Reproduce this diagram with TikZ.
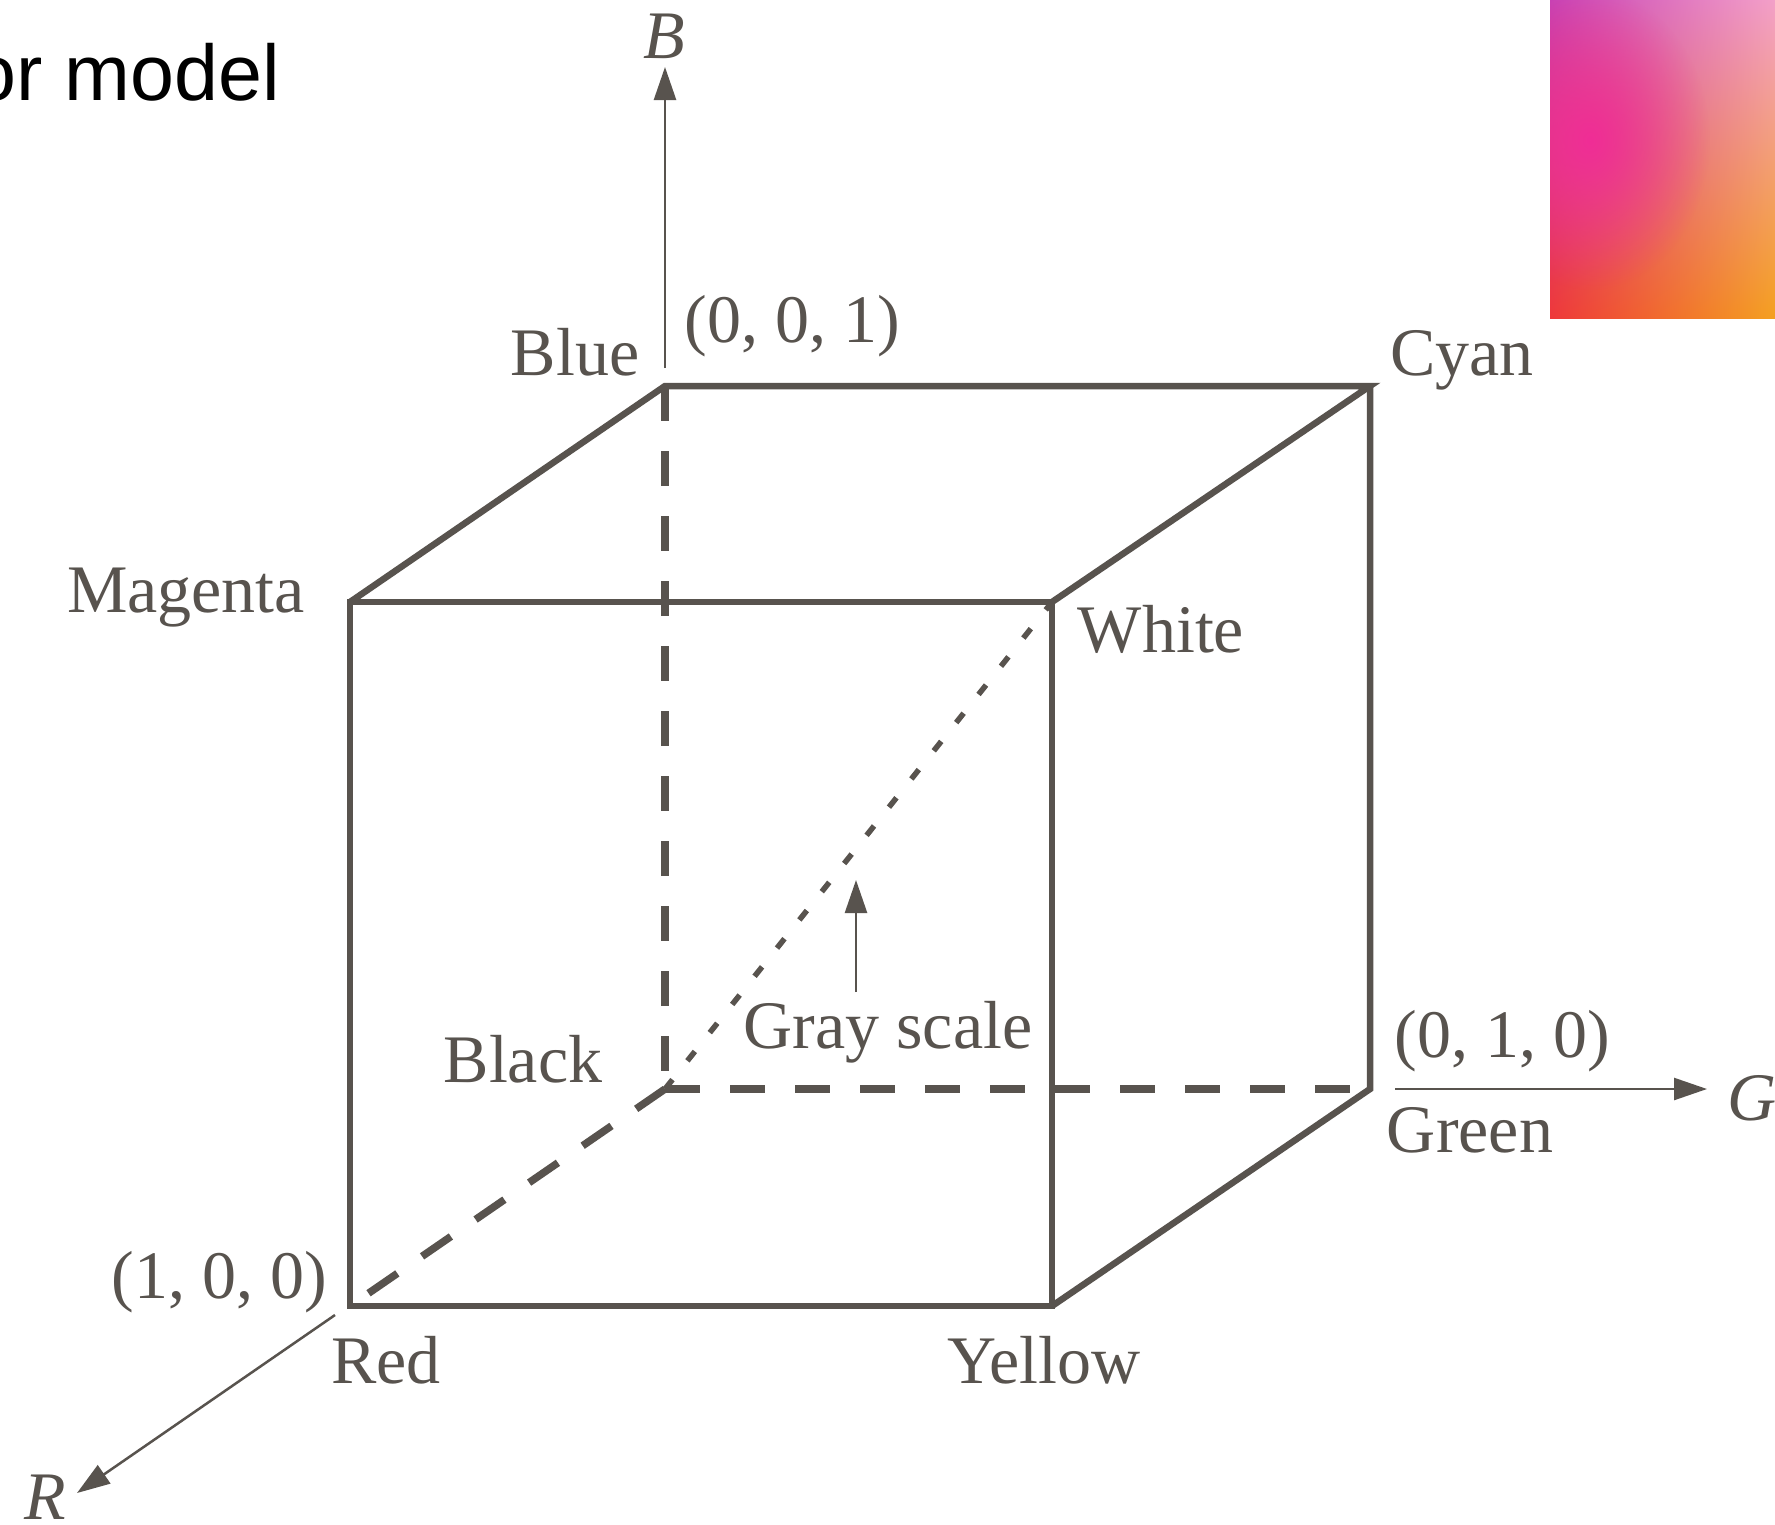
\documentclass[tikz,border=0pt]{standalone}
\usepackage{fontspec}
\setmainfont{Liberation Serif}
\newfontfamily\arialfont{Liberation Sans}
\usetikzlibrary{arrows.meta,fadings,shadings}
\tikzfading[name=myfadeout, inner color=transparent!0, outer color=transparent!100]
\definecolor{ink}{RGB}{88,83,78}
\definecolor{gUL}{RGB}{200,66,180}
\definecolor{gUR}{RGB}{243,160,200}
\definecolor{gLL}{RGB}{238,56,58}
\definecolor{gLR}{RGB}{244,160,32}
\definecolor{hotpink}{RGB}{240,45,150}
\begin{document}
\begin{tikzpicture}[x=1pt,y=-1pt,
  lbl/.style={text=ink, font=\fontsize{68}{80}\selectfont, inner sep=0pt, anchor=base},
  ilbl/.style={lbl, font=\fontsize{68}{80}\selectfont\itshape},
  edge/.style={draw=ink, line width=6.5pt},
  hidden/.style={draw=ink, line width=7.5pt, dash pattern=on 35pt off 30pt},
  grayline/.style={draw=ink, line width=5.5pt, dash pattern=on 12pt off 24pt},
  axis/.style={draw=ink, line width=2.5pt, -{Triangle[length=33pt,width=22pt]}}]
\useasboundingbox (0,0) rectangle (1775,1524);
\fill[white] (0,0) rectangle (1775,1524);

% title fragment
\node[font=\arialfont\fontsize{79}{90}\selectfont, text=black, inner sep=0pt, anchor=base east] (title) at (280,100) {or model};

% gradient image
\shade[upper left=gUL, upper right=gUR, lower left=gLL, lower right=gLR] (1550,0) rectangle (1775,318);
\begin{scope}
  \clip (1550,0) rectangle (1775,318);
  \fill[hotpink, path fading=myfadeout] (1590,140) ellipse (120pt and 150pt);
\end{scope}

% cube vertices
\coordinate (Blue) at (665,386);
\coordinate (Cyan) at (1370,386);
\coordinate (Black) at (665,1089);
\coordinate (Green) at (1370,1089);
\coordinate (Magenta) at (350,602);
\coordinate (White) at (1052,602);
\coordinate (Red) at (350,1306);
\coordinate (Yellow) at (1052,1306);

% hidden edges
\draw[hidden] (Blue) -- (Black);
\draw[hidden] (Black) -- (Green);
\draw[hidden] (Black) -- (Red);
% gray scale diagonal
\draw[grayline] (Black) -- (White);

% visible edges
\draw[edge] (Red) -- (Magenta) -- (White) -- (Yellow) -- cycle;
\draw[edge] (Magenta) -- (Blue) -- (Cyan) -- (White);
\draw[edge] (Cyan) -- (Green) -- (Yellow);

% axes
\coordinate (Bs) at (665,368);
\coordinate (Be) at (665,67);
\coordinate (Gs) at (1395,1089);
\coordinate (Ge) at (1707,1089);
\coordinate (Rs) at (335,1315);
\coordinate (Re) at (77,1493);
\coordinate (Ys) at (856,992);
\coordinate (Ye) at (856,880);
\draw[axis] (Bs) -- (Be);
\draw[axis] (Gs) -- (Ge);
\draw[axis] (Rs) -- (Re);
\draw[axis] (Ys) -- (Ye);

% labels
\node[ilbl] (lB) at (664,58) {B};
\node[ilbl] (lG) at (1752,1120) {G};
\node[ilbl] (lR) at (45,1519) {R};
\node[lbl] (l001) at (792,342) {(0, 0, 1)};
\node[lbl] (l010) at (1502,1057) {(0, 1, 0)};
\node[lbl] (l100) at (219,1298) {(1, 0, 0)};
\node[lbl] (lBlue) at (575,375) {Blue};
\node[lbl] (lCyan) at (1462,375) {Cyan};
\node[lbl] (lMagenta) at (186,612) {Magenta};
\node[lbl] (lWhite) at (1161,652) {White};
\node[lbl] (lBlack) at (523,1082) {Black};
\node[lbl] (lGray) at (888,1048) {Gray scale};
\node[lbl] (lGreen) at (1470,1152) {Green};
\node[lbl] (lRed) at (386,1383) {Red};
\node[lbl] (lYellow) at (1044,1383) {Yellow};
\end{tikzpicture}
\end{document}
